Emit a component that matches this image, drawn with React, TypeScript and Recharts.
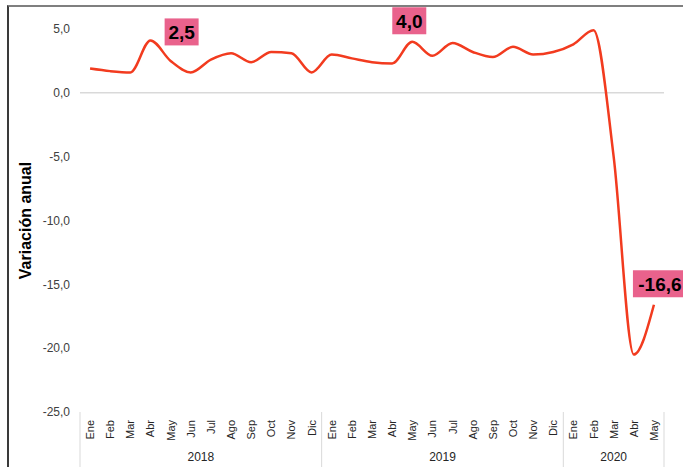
import React from 'react';
import { LineChart, Line, XAxis, YAxis, ReferenceLine, LabelList } from 'recharts';

const monthNames = ['Ene', 'Feb', 'Mar', 'Abr', 'May', 'Jun', 'Jul', 'Ago', 'Sep', 'Oct', 'Nov', 'Dic'];
const years = ['2018', '2019', '2020'];
const values2018 = [1.9, 1.7, 1.6, 4.1, 2.5, 1.6, 2.6, 3.1, 2.4, 3.2, 3.1, 1.6];
const values2019 = [3.0, 2.7, 2.4, 2.3, 4.0, 2.9, 3.9, 3.2, 2.8, 3.6, 3.0, 3.2];
const values2020 = [3.8, 4.9, -5.0, -20.5, -16.6];
const yTicks = [5, 0, -5, -10, -15, -20, -25];
const highlightLabels: Record<string, string> = {
  '2018-May': '2,5',
  '2019-May': '4,0',
  '2020-May': '-16,6',
};

const yearValues = [values2018, values2019, values2020];

type Row = { key: string; month: string; year: string; monthIndex: number; groupSize: number; value: number };
const data: Row[] = [];
years.forEach((year, yi) => {
  const vals = yearValues[yi];
  vals.forEach((v, mi) => {
    data.push({ key: `${year}-${monthNames[mi]}`, month: monthNames[mi], year, monthIndex: mi, groupSize: vals.length, value: v });
  });
});

const FONT = '"Liberation Sans", Arial, sans-serif';
const W = 683;
const H = 467;
const MARGIN = { top: 29, right: 19, bottom: 0, left: 8 };
const Y_AXIS_W = 72;
const X_AXIS_H = 55;
const PLOT_W = W - MARGIN.left - MARGIN.right - Y_AXIS_W;
const BAND_HALF = PLOT_W / data.length / 2;

const labelOffsets: Record<string, { dx: number; dy: number }> = {
  '2018-May': { dx: 11, dy: -29 },
  '2019-May': { dx: -3, dy: -21 },
  '2020-May': { dx: 6, dy: -21 },
};

const MonthTick = (props: any) => {
  const { x, y, payload, index } = props;
  const idx = typeof index === 'number' ? index : payload?.index;
  const d = data[idx];
  if (!d) return null;
  const half = BAND_HALF;
  const sepColor = '#d9d9d9';
  const isFirst = d.monthIndex === 0;
  const isLast = idx === data.length - 1;
  return (
    <g>
      <text
        transform={`translate(${x + 4},${y + 8}) rotate(-90)`}
        textAnchor="end"
        fontSize={11}
        fontFamily={FONT}
        fill="#262626"
      >
        {d.month}
      </text>
      {isFirst && <line x1={x - half} x2={x - half} y1={y} y2={y + X_AXIS_H} stroke={sepColor} strokeWidth={1} />}
      {isFirst && (
        <text x={x - half + d.groupSize * half} y={y + 49} textAnchor="middle" fontSize={12} fontFamily={FONT} fill="#262626">
          {d.year}
        </text>
      )}
      {isLast && <line x1={x + half} x2={x + half} y1={y} y2={y + X_AXIS_H} stroke={sepColor} strokeWidth={1} />}
    </g>
  );
};

const HighlightLabel = (props: any) => {
  const { x, y, index } = props;
  const d = data[index];
  if (!d) return null;
  const text = highlightLabels[d.key];
  if (!text) return null;
  const off = labelOffsets[d.key] || { dx: 0, dy: -24 };
  const fs = 19;
  const w = text.length * 10 + 4;
  const h = 27;
  const cx = x + off.dx;
  const cy = y + off.dy;
  return (
    <g>
      <rect x={cx - w / 2} y={cy - h / 2} width={w} height={h} fill="#E9628C" />
      <text x={cx} y={cy} dy="0.36em" textAnchor="middle" fontSize={fs} fontWeight="bold" fontFamily={FONT} fill="#000">
        {text}
      </text>
    </g>
  );
};

const fmt = (v: number) => v.toFixed(1).replace('.', ',');

export default function App() {
  return (
    <div style={{ position: 'absolute', left: 0, top: 0, width: W, height: H, overflow: 'hidden', background: '#fff' }}>
      <div
        style={{
          position: 'absolute',
          left: 7,
          top: 5,
          width: 800,
          height: 600,
          borderTop: '2px solid #7f7f7f',
          borderLeft: '2px solid #3a3a3a',
        }}
      />
      <div style={{ position: 'absolute', left: 0, top: 0 }}>
        <LineChart width={W} height={H} data={data} margin={MARGIN}>
          <XAxis
            dataKey="key"
            interval={0}
            axisLine={false}
            tickLine={false}
            tickSize={0}
            tickMargin={0}
            height={X_AXIS_H}
            padding={{ left: BAND_HALF, right: BAND_HALF }}
            tick={<MonthTick />}
          />
          <YAxis
            domain={[-25, 5]}
            ticks={yTicks}
            width={Y_AXIS_W}
            axisLine={false}
            tickLine={false}
            tickSize={0}
            tickMargin={10}
            tickFormatter={fmt}
            tick={{ fontSize: 12, fill: '#404040', fontFamily: FONT }}
            label={{
              value: 'Variación anual',
              angle: -90,
              position: 'insideLeft',
              offset: 17,
              style: { fontSize: 16, fontWeight: 'bold', fill: '#000', fontFamily: FONT, textAnchor: 'middle' },
            }}
          />
          <ReferenceLine y={0} stroke="#d9d9d9" strokeWidth={1.5} />
          <Line
            type="monotone"
            dataKey="value"
            stroke="#F23B1F"
            strokeWidth={2.5}
            dot={false}
            isAnimationActive={false}
          >
            <LabelList dataKey="value" content={<HighlightLabel />} />
          </Line>
        </LineChart>
      </div>
    </div>
  );
}
